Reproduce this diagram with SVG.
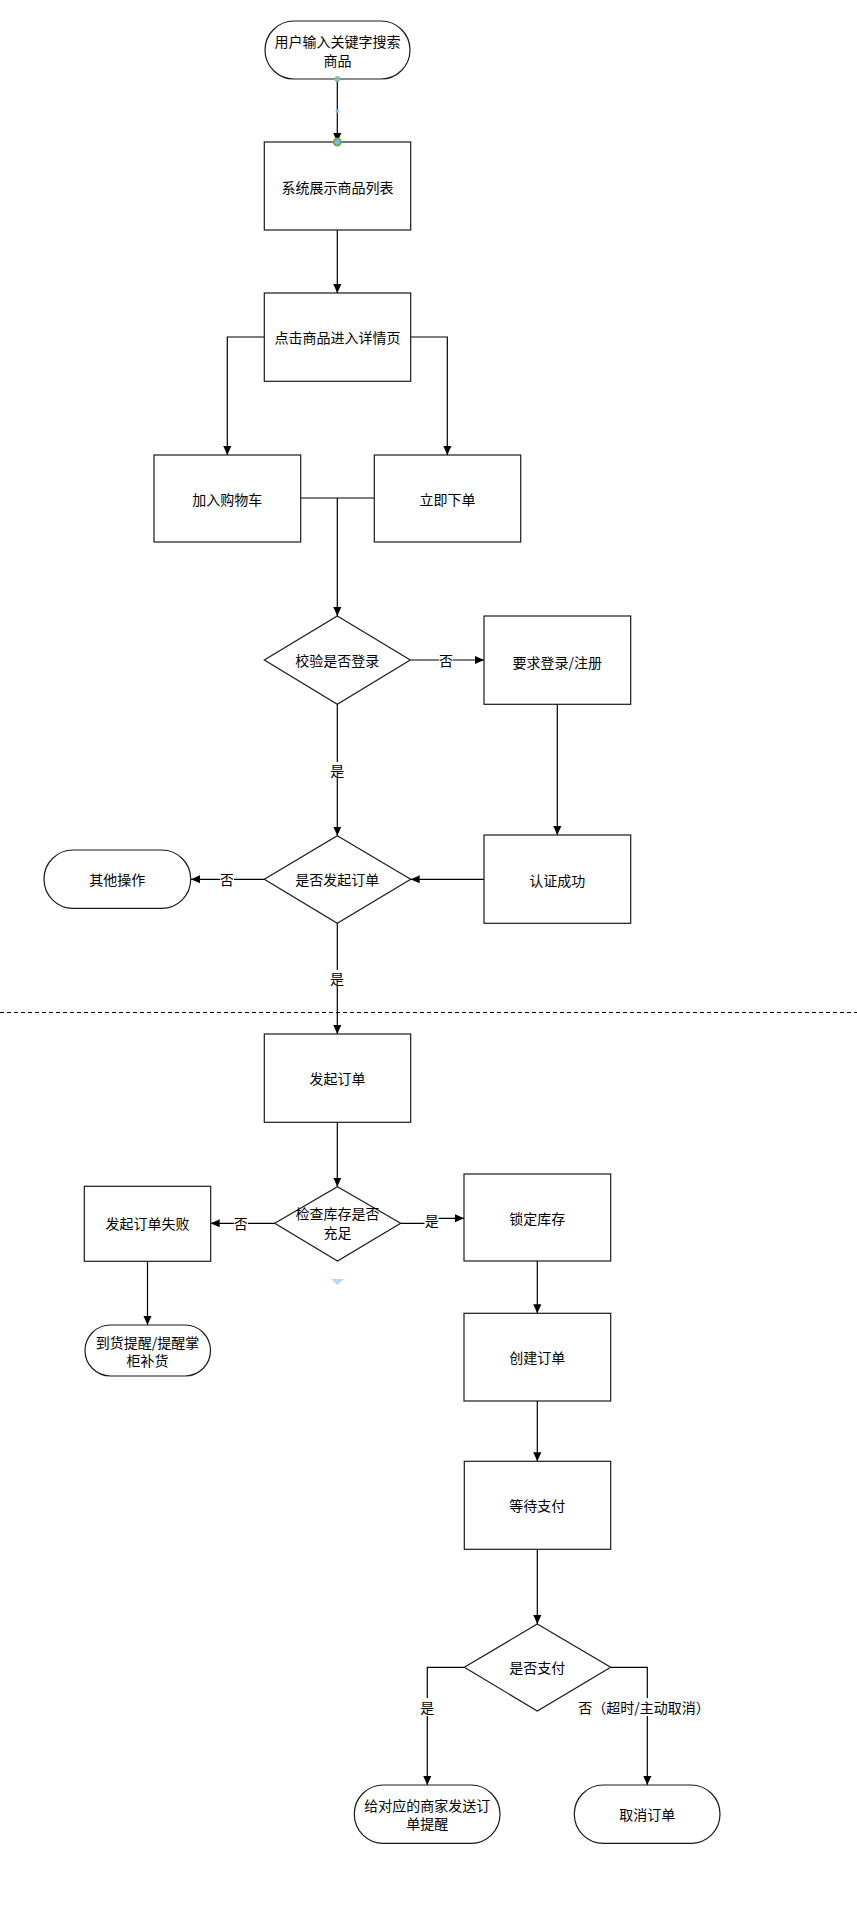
<svg xmlns="http://www.w3.org/2000/svg" width="857" height="1910" viewBox="0 0 857 1910">
<style>
.n{fill:#fff;stroke:#1a1a1a;stroke-width:1.2}
.t{font-family:"Noto Sans CJK SC","Liberation Sans",sans-serif;font-size:14px;fill:#000;text-anchor:middle;dominant-baseline:central}
.c{fill:none;stroke:#000;stroke-width:1.2}
.lb{fill:#fff;stroke:none}
</style>
<defs>
<marker id="ar" viewBox="0 0 10 10" refX="10" refY="5" markerWidth="9" markerHeight="9" markerUnits="userSpaceOnUse" orient="auto">
<path d="M0,0.5 L10,5 L0,9.5 Z" fill="#000"/>
</marker>
</defs>
<rect width="857" height="1910" fill="#fff"/>
<line x1="0" y1="1012.5" x2="857" y2="1012.5" stroke="#000" stroke-width="1" stroke-dasharray="4,3"/>

<g id="connectors">
<path class="c" d="M337.3,79 V142" marker-end="url(#ar)"/>
<path class="c" d="M337.3,230 V293" marker-end="url(#ar)"/>
<path class="c" d="M264,337 H227.3 V455" marker-end="url(#ar)"/>
<path class="c" d="M410.7,337 H447.3 V455" marker-end="url(#ar)"/>
<path class="c" d="M301,498 H374"/>
<path class="c" d="M337.3,498 V616" marker-end="url(#ar)"/>
<path class="c" d="M410.7,660 H484" marker-end="url(#ar)"/>
<rect class="lb" x="439" y="652" width="14" height="16"/>
<text class="t" x="446" y="660">否</text>
<path class="c" d="M337.3,704 V835.7" marker-end="url(#ar)"/>
<rect class="lb" x="330" y="762" width="14" height="16"/>
<text class="t" x="337.3" y="770">是</text>
<path class="c" d="M557.3,704 V835" marker-end="url(#ar)"/>
<path class="c" d="M484,879.3 H410.7" marker-end="url(#ar)"/>
<path class="c" d="M264.3,879.3 H191" marker-end="url(#ar)"/>
<rect class="lb" x="220" y="871" width="14" height="16"/>
<text class="t" x="226.7" y="879.3">否</text>
<path class="c" d="M337.3,923 V1034" marker-end="url(#ar)"/>
<rect class="lb" x="330" y="970" width="14" height="16"/>
<text class="t" x="337" y="978">是</text>
<path class="c" d="M337.3,1122.3 V1186.7" marker-end="url(#ar)"/>
<path class="c" d="M274.7,1223.3 H210.7" marker-end="url(#ar)"/>
<rect class="lb" x="234" y="1215" width="14" height="16"/>
<text class="t" x="240.7" y="1223.3">否</text>
<path class="c" d="M400.7,1223.3 H431.7 V1218.3 H464" marker-end="url(#ar)"/>
<rect class="lb" x="424.5" y="1211" width="14" height="17"/>
<text class="t" x="431.7" y="1220">是</text>
<path class="c" d="M147.5,1261.3 V1325" marker-end="url(#ar)"/>
<path class="c" d="M537.3,1261 V1313.3" marker-end="url(#ar)"/>
<path class="c" d="M537.3,1401 V1461.3" marker-end="url(#ar)"/>
<path class="c" d="M537.3,1549.3 V1624" marker-end="url(#ar)"/>
<path class="c" d="M464.3,1667.3 H427.3 V1785" marker-end="url(#ar)"/>
<rect class="lb" x="420" y="1698" width="14" height="18"/>
<text class="t" x="427.3" y="1707">是</text>
<path class="c" d="M610.7,1667.3 H647.3 V1785" marker-end="url(#ar)"/>
<rect class="lb" x="578" y="1698" width="132" height="18"/>
<text class="t" x="644" y="1707">否（超时/主动取消）</text>
</g>

<g id="n-start"><rect class="n" x="265" y="21" width="145" height="58" rx="29" ry="29"/><text class="t" x="337.5" y="41">用户输入关键字搜索</text><text class="t" x="337.5" y="60">商品</text></g>
<g id="n-list"><rect class="n" x="264.3" y="142" width="146.4" height="88"/><text class="t" x="337.5" y="186.5">系统展示商品列表</text></g>
<g id="n-detail"><rect class="n" x="264.3" y="293" width="146.4" height="88.3"/><text class="t" x="337.5" y="337">点击商品进入详情页</text></g>
<g id="n-cart"><rect class="n" x="154" y="455" width="146.7" height="87"/><text class="t" x="227.3" y="498.5">加入购物车</text></g>
<g id="n-buy"><rect class="n" x="374.3" y="455" width="146.4" height="87"/><text class="t" x="447.5" y="498.5">立即下单</text></g>
<g id="n-check-login"><polygon class="n" points="337.3,616 410.3,660 337.3,704.3 264.3,660"/><text class="t" x="337.3" y="660">校验是否登录</text></g>
<g id="n-login"><rect class="n" x="484" y="616" width="146.7" height="88.3"/><text class="t" x="557.3" y="661.5">要求登录/注册</text></g>
<g id="n-auth"><rect class="n" x="484" y="835" width="146.7" height="88.3"/><text class="t" x="557.3" y="880">认证成功</text></g>
<g id="n-order-q"><polygon class="n" points="337.3,835.7 410.7,879.3 337.3,923.3 264.3,879.3"/><text class="t" x="337.3" y="879.3">是否发起订单</text></g>
<g id="n-other"><rect class="n" x="44" y="850" width="146.7" height="58.3" rx="29" ry="29"/><text class="t" x="117.3" y="879.3">其他操作</text></g>
<g id="n-place"><rect class="n" x="264.3" y="1034" width="146.4" height="88.3"/><text class="t" x="337.5" y="1078">发起订单</text></g>
<g id="n-stock"><polygon class="n" points="337.5,1186.7 400.7,1223.3 337.5,1261 274.7,1223.3"/><text class="t" x="337.5" y="1213">检查库存是否</text><text class="t" x="337.5" y="1231.5">充足</text></g>
<g id="n-fail"><rect class="n" x="84.3" y="1186.3" width="126.4" height="75"/><text class="t" x="147.5" y="1223.3">发起订单失败</text></g>
<g id="n-notify"><rect class="n" x="85" y="1325" width="125.5" height="51" rx="25.5" ry="25.5"/><text class="t" x="147.5" y="1341.7">到货提醒/提醒掌</text><text class="t" x="147.5" y="1360">柜补货</text></g>
<g id="n-lock"><rect class="n" x="464" y="1174" width="146.7" height="87"/><text class="t" x="537.3" y="1217.7">锁定库存</text></g>
<g id="n-create"><rect class="n" x="464" y="1313.3" width="146.7" height="87.7"/><text class="t" x="537.3" y="1357">创建订单</text></g>
<g id="n-wait"><rect class="n" x="464.3" y="1461.3" width="146.4" height="88"/><text class="t" x="537.3" y="1505">等待支付</text></g>
<g id="n-paid-q"><polygon class="n" points="537.3,1624 610.7,1667.3 537.3,1711 464.3,1667.3"/><text class="t" x="537.3" y="1667.3">是否支付</text></g>
<g id="n-merchant"><rect class="n" x="354.3" y="1785" width="145.7" height="58.3" rx="29" ry="29"/><text class="t" x="427.3" y="1805">给对应的商家发送订</text><text class="t" x="427.3" y="1822.5">单提醒</text></g>
<g id="n-cancel"><rect class="n" x="574.3" y="1785" width="145.7" height="58.3" rx="29" ry="29"/><text class="t" x="647.3" y="1814">取消订单</text></g>

<g id="handles">
<circle cx="337.3" cy="79" r="2.5" fill="#7ab8f5" stroke="#8cc63f" stroke-width="1"/>
<circle cx="337.3" cy="111" r="1.8" fill="#7ab8f5"/>
<circle cx="337.3" cy="142" r="3.5" fill="#7ab8f5" stroke="#6ab04c" stroke-width="2"/>
<path d="M331,1279 H344 L337.5,1285 Z" fill="#b8dcef"/>
</g>
</svg>
